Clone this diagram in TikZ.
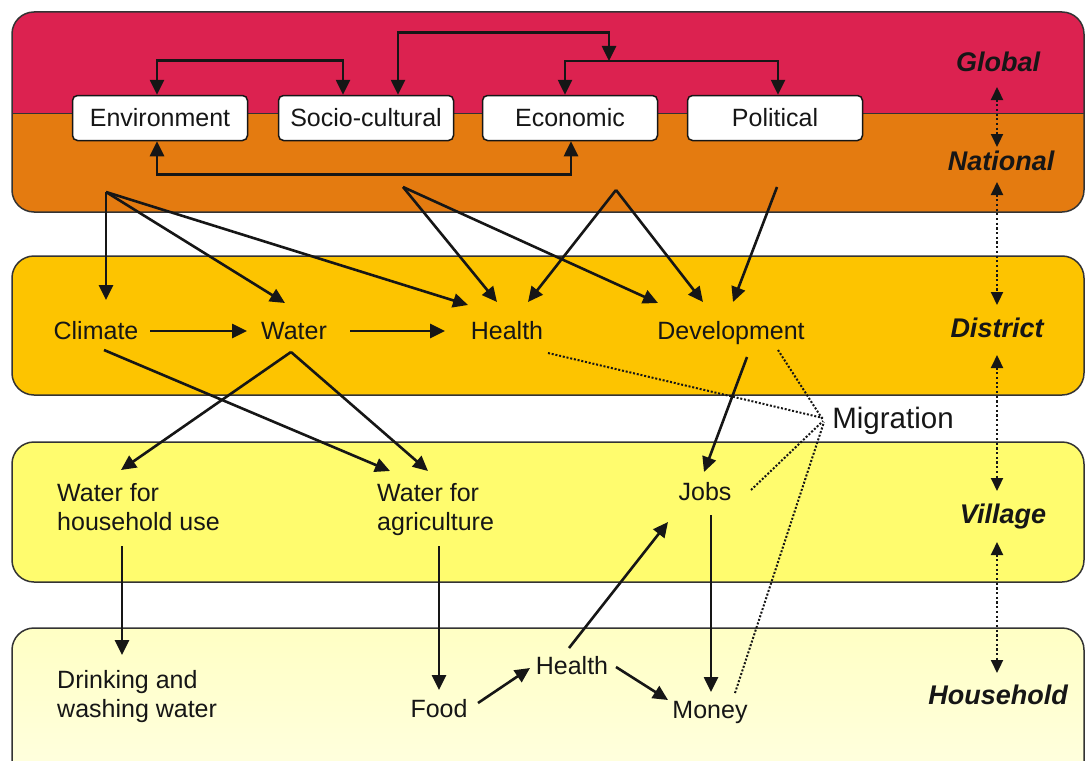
\documentclass[tikz,border=0pt]{standalone}
\usepackage{fontspec}
\setmainfont{Liberation Sans}
\usetikzlibrary{arrows.meta}
\definecolor{cRed}{HTML}{DC2250}
\definecolor{cOrange}{HTML}{E47B10}
\definecolor{cDistrict}{HTML}{FDC400}
\definecolor{cVillage}{HTML}{FFFC6E}
\definecolor{cHouseTop}{HTML}{FFFFC4}
\definecolor{cHouseBot}{HTML}{FFFFE4}
\definecolor{cLine}{HTML}{161616}
\definecolor{cBorder}{HTML}{333333}
\tikzset{
  band/.style={draw=cBorder, line width=1.5pt, rounded corners=22pt},
  box/.style={draw=cLine, fill=white, rounded corners=5pt, line width=1.5pt,
    minimum width=175pt, minimum height=45pt, inner sep=0pt,
    font=\fontsize{25}{29}\selectfont, text=cLine},
  lbl/.style={inner sep=0pt, font=\fontsize{25}{29}\selectfont, text=cLine},
  mlbl/.style={inner sep=0pt, font=\fontsize{25}{29}\selectfont, text=cLine, align=left, anchor=west},
  lvl/.style={inner sep=0pt, font=\fontsize{27}{30}\selectfont\bfseries\itshape, text=cLine},
  arr/.style={line width=2.6pt, draw=cLine, -{Triangle[length=15pt,width=14pt]}},
  darr/.style={line width=2.6pt, draw=cLine, {Triangle[length=15pt,width=14pt]}-{Triangle[length=15pt,width=14pt]}},
  dots/.style={line width=2pt, draw=cLine, dash pattern=on 2pt off 1.8pt},
  dotarr/.style={line width=2.2pt, draw=cLine, dash pattern=on 2.2pt off 2.5pt, {Triangle[length=13pt,width=12pt]}-{Triangle[length=13pt,width=12pt]}},
}
\begin{document}
\begin{tikzpicture}[x=1pt,y=-1pt]
\useasboundingbox (0,0) rectangle (1086,760);
\clip (0,0) rectangle (1086,760);
% bands
\begin{scope}
  \clip[rounded corners=22pt] (12,12) rectangle (1084,212);
  \fill[cRed] (0,0) rectangle (1100,113);
  \fill[cOrange] (0,113) rectangle (1100,230);
  \draw[cBorder, line width=0.8pt] (0,113) -- (1100,113);
\end{scope}
\draw[band] (12,12) rectangle (1084,212);
\fill[cDistrict, band] (12,256) rectangle (1084,395);
\fill[cVillage, band] (12,442) rectangle (1084,582);
\shade[top color=cHouseTop, bottom color=cHouseBot, rounded corners=22pt] (12,628) rectangle (1084,800);
\draw[band] (12,628) rectangle (1084,800);

% boxes
\node[box] (env) at (160,118) {Environment};
\node[box] (soc) at (366,118) {Socio-cultural};
\node[box] (eco) at (570,118) {Economic};
\node[box] (pol) at (775,118) {Political};

% level labels
\node[lvl] (global) at (998,62) {Global};
\node[lvl] (national) at (1001,161) {National};
\node[lvl] (district) at (997,328) {District};
\node[lvl] (village) at (1003,517) {Village};
\node[lvl] (household) at (998,695) {Household};

% text nodes
\node[lbl] (climate) at (96,331) {Climate};
\node[lbl] (water) at (294,331) {Water};
\node[lbl] (health) at (507,331) {Health};
\node[lbl] (dev) at (731,333) {Development};
\node[inner sep=0pt, font=\fontsize{29.5}{32}\selectfont, text=cLine] (mig) at (893,421) {Migration};
\node[mlbl] (whh) at (57,507) {Water for\\household use};
\node[mlbl] (wag) at (377,510) {Water for\\agriculture};
\node[lbl] (jobs) at (705,492) {Jobs};
\node[mlbl] (drink) at (57,697) {Drinking and\\washing water};
\node[lbl] (food) at (439,709) {Food};
\node[lbl] (health2) at (572,666) {Health};
\node[lbl] (money) at (710,712) {Money};

% top brackets
\draw[darr] ([xshift=-3pt]env.north) -- ++(0,-34) -| ([xshift=-23pt]soc.north);
\coordinate (br) at (609,61);
\draw[darr] ([xshift=32pt]soc.north) -- ++(0,-62) -| (br);
\draw[arr] (br) -| ([xshift=-5pt]eco.north);
\draw[arr] (br) -| ([xshift=3pt]pol.north);
\draw[darr] ([xshift=-3pt]env.south) -- ++(0,33) -| ([xshift=1pt]eco.south);

% origins in national band
\coordinate (oA) at (106,192);
\coordinate (oB) at (403,187);
\coordinate (oC) at (616,190);
\coordinate (oD) at (777,187);
\draw[arr] (oA) -- ([shift={(10,-31)}]climate.center);
\draw[arr] (oA) -- ([shift={(-9,-28)}]water.center);
\draw[arr] (oA) -- ([shift={(-39,-26)}]health.center);
\draw[arr] (oB) -- ([shift={(-10,-29)}]health.center);
\draw[arr] (oB) -- ([shift={(-73,-30)}]dev.center);
\draw[arr] (oC) -- ([shift={(21,-29)}]health.center);
\draw[arr] (oC) -- ([shift={(-28,-31)}]dev.center);
\draw[arr] (oD) -- ([shift={(2,-31)}]dev.center);

% district
\draw[arr] ([shift={(54,0)}]climate.center) -- ([shift={(-47,0)}]water.center);
\draw[arr] ([shift={(56,0)}]water.center) -- ([shift={(-62,0)}]health.center);
\draw[arr] ([shift={(8,19)}]climate.center) -- ([shift={(13,-39)}]wag.west);
\draw[arr] ([shift={(-3,21)}]water.center) -- ([shift={(64,-37)}]whh.west);
\draw[arr] ([shift={(-3,21)}]water.center) -- ([shift={(51,-39)}]wag.west);
\draw[arr] ([shift={(16,24)}]dev.center) -- ([shift={(-1,-20)}]jobs.center);

% village / household
\draw[arr] ([shift={(65,39)}]whh.west) -- ([shift={(65,-42)}]drink.west);
\draw[arr] ([shift={(62,36)}]wag.west) -- ([shift={(0,-19)}]food.center);
\draw[arr] ([shift={(39,-6)}]food.center) -- ([shift={(-42,2)}]health2.center);
\draw[arr] ([shift={(-3,-18)}]health2.center) -- ([shift={(-37,30)}]jobs.center);
\draw[arr] ([shift={(44,1)}]health2.center) -- ([shift={(-42,-12)}]money.center);
\draw[arr] ([shift={(6,23)}]jobs.center) -- ([shift={(1,-20)}]money.center);

% migration dotted
\draw[dots] ([shift={(41,22)}]health.center) -- ([shift={(-70,-3)}]mig.center);
\draw[dots] ([shift={(47,17)}]dev.center) -- ([shift={(-70,-1)}]mig.center);
\draw[dots] ([shift={(46,-2)}]jobs.center) -- ([shift={(-70,0)}]mig.center);
\draw[dots] ([shift={(25,-19)}]money.center) -- ([shift={(-69,1)}]mig.center);

% level arrows
\draw[dotarr] ([shift={(-1,25)}]global.center) -- ([shift={(-4,-14)}]national.center);
\draw[dotarr] ([shift={(-4,21)}]national.center) -- ([shift={(0,-23)}]district.center);
\draw[dotarr] ([shift={(0,27)}]district.center) -- ([shift={(-6,-26)}]village.center);
\draw[dotarr] ([shift={(-6,25)}]village.center) -- ([shift={(-1,-22)}]household.center);
\end{tikzpicture}
\end{document}
